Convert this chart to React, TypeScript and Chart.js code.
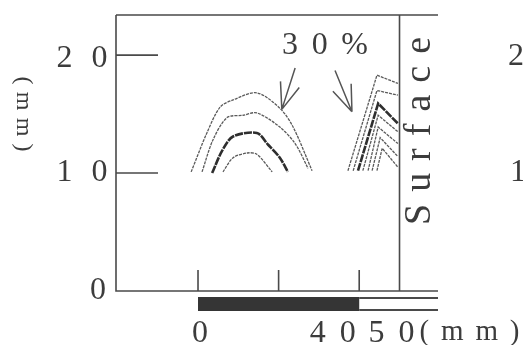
import { useEffect, useRef } from "react";
import { Chart, registerables } from "chart.js";

Chart.register(...registerables);

// ---- data (mm) ----
const xRange = [-20.35, 59.55];
const yRange = [0, 23.4];
const yTicks = [10, 20];
const yTickValues = [0, 10, 20];
const yTickLabels = ["0", "10", "20"];
const xTicks = [0, 20, 40];
const xLabelValues = [0, 40, 50];
const xLabelTexts = ["0", "40", "50"];
const xUnit = "(mm)";
const yUnit = "(mm)";
const surfaceX = 50;
const surfaceLabel = "Surface";
const percentLabel = "30%";
const percentAt = [31.5, 20.8];
const barFilled = [0, 40];
const barOpen = [40, 59.55];
const nextPanelLabels = ["2", "1"];

// contours, left group (x mm, y mm)
const contourA1 = [[-1.7, 10.1], [2.2, 13.4], [5.5, 15.6], [8.7, 16.2], [14.6, 16.8], [20.3, 15.5], [23.6, 13.9], [28.3, 10.2]];
const contourA2 = [[1.0, 10.1], [3.7, 12.8], [7.2, 14.7], [11.2, 14.9], [14.6, 15.1], [20.3, 13.9], [24.1, 12.5], [27.3, 10.4]];
const contourA3 = [[3.5, 10.0], [6.0, 11.9], [8.7, 13.1], [14.6, 13.4], [17.4, 12.4], [20.3, 11.3], [22.3, 10.1]];
const contourA4 = [[6.2, 10.1], [8.7, 11.3], [12.2, 11.7], [14.6, 11.6], [18.4, 10.1]];

// contours, near surface
const contourB1 = [[37.2, 10.2], [44.4, 18.3], [49.6, 17.6]];
const contourB2 = [[38.5, 10.2], [44.4, 17.0], [49.6, 16.6]];
const contourB3 = [[39.7, 10.2], [44.7, 15.9], [49.6, 14.2]];
const contourB4 = [[40.9, 10.2], [44.7, 14.9], [49.6, 13.5]];
const contourB5 = [[42.2, 10.2], [44.7, 13.9], [49.6, 12.5]];
const contourB6 = [[43.2, 10.2], [45.2, 13.0], [49.6, 11.4]];
const contourB7 = [[44.4, 10.2], [45.7, 12.1], [49.6, 10.5]];

const arrowTails = [[24.1, 18.9], [34.0, 18.7]];
const arrowTips = [[20.8, 15.4], [38.2, 15.2]];

const INK = "#4a4a4a";
const SERIF = '"Liberation Serif", "DejaVu Serif", serif';

function toPts(arr: number[][]) {
  return arr.map(([x, y]) => ({ x, y }));
}

function fitted(ctx: CanvasRenderingContext2D, str: string, cx: number, cy: number, target: number) {
  const chars = str.split("");
  const widths = chars.map((c) => ctx.measureText(c).width);
  const sum = widths.reduce((a, b) => a + b, 0);
  const gap = chars.length > 1 ? (target - sum) / (chars.length - 1) : 0;
  const total = chars.length > 1 ? target : sum;
  let x = cx - total / 2;
  ctx.textAlign = "left";
  chars.forEach((c, i) => {
    ctx.fillText(c, x, cy);
    x += widths[i] + gap;
  });
}

const decor = {
  id: "decor",
  beforeDatasetsDraw(chart: any) {
    const ctx: CanvasRenderingContext2D = chart.ctx;
    const { left, right, top, bottom } = chart.chartArea;
    const xs = chart.scales.x;
    const ys = chart.scales.y;
    ctx.save();
    ctx.strokeStyle = INK;
    ctx.lineWidth = 1.6;
    ctx.beginPath();
    ctx.moveTo(left, top);
    ctx.lineTo(right, top);
    ctx.moveTo(left, top);
    ctx.lineTo(left, bottom);
    ctx.lineTo(right, bottom);
    const sx = xs.getPixelForValue(surfaceX);
    ctx.moveTo(sx, top);
    ctx.lineTo(sx, bottom);
    ctx.stroke();
    ctx.beginPath();
    yTicks.forEach((v) => {
      const y = ys.getPixelForValue(v);
      ctx.moveTo(left, y);
      ctx.lineTo(left + 42, y);
    });
    xTicks.forEach((v) => {
      const x = xs.getPixelForValue(v);
      ctx.moveTo(x, bottom);
      ctx.lineTo(x, bottom - 21);
    });
    ctx.stroke();
    const b0 = xs.getPixelForValue(barFilled[0]);
    const b1 = xs.getPixelForValue(barFilled[1]);
    const b2 = xs.getPixelForValue(barOpen[1]);
    ctx.fillStyle = "#353535";
    ctx.fillRect(b0, bottom + 6, b1 - b0, 14);
    ctx.lineWidth = 2;
    ctx.beginPath();
    ctx.moveTo(b1, bottom + 7);
    ctx.lineTo(b2, bottom + 7);
    ctx.moveTo(b1, bottom + 19);
    ctx.lineTo(b2, bottom + 19);
    ctx.stroke();
    ctx.restore();
  },
  afterDraw(chart: any) {
    const ctx: CanvasRenderingContext2D = chart.ctx;
    const { left, top, bottom } = chart.chartArea;
    const xs = chart.scales.x;
    const ys = chart.scales.y;
    ctx.save();
    ctx.fillStyle = "#3c3c3c";
    ctx.strokeStyle = "#555";
    ctx.textBaseline = "middle";
    ctx.font = `32px ${SERIF}`;
    yTickValues.forEach((v, i) => {
      const y = ys.getPixelForValue(v) + (v === 20 ? 3 : 0);
      const t = yTickLabels[i];
      if (t.length > 1) fitted(ctx, t, left - 34, y, 51);
      else {
        ctx.textAlign = "right";
        ctx.fillText(t, left - 10, y);
      }
    });
    const xOff: Record<string, number> = { "0": 2, "40": -26.5, "50": -8 };
    xLabelValues.forEach((v, i) => {
      const t = xLabelTexts[i];
      const x = xs.getPixelForValue(v) + xOff[t];
      const y = bottom + 43;
      if (t.length > 1) fitted(ctx, t, x, y, 46);
      else {
        ctx.textAlign = "center";
        ctx.fillText(t, x, y);
      }
    });
    ctx.font = `29px ${SERIF}`;
    fitted(ctx, xUnit, xs.getPixelForValue(50) + 70, bottom + 41, 100);
    ctx.font = `32px ${SERIF}`;
    fitted(ctx, percentLabel, xs.getPixelForValue(percentAt[0]), ys.getPixelForValue(percentAt[1]), 86);
    ctx.save();
    ctx.translate(xs.getPixelForValue(surfaceX) + 21, top + 116);
    ctx.rotate(-Math.PI / 2);
    ctx.font = `38px ${SERIF}`;
    fitted(ctx, surfaceLabel, 0, 0, 188);
    ctx.restore();
    ctx.save();
    ctx.translate(23, ys.getPixelForValue(15));
    ctx.rotate(Math.PI / 2);
    ctx.font = `24px ${SERIF}`;
    fitted(ctx, yUnit, 0, 0, 75);
    ctx.restore();
    ctx.font = `32px ${SERIF}`;
    ctx.textAlign = "left";
    ctx.fillText(nextPanelLabels[0], 508, ys.getPixelForValue(20) + 1);
    ctx.fillText(nextPanelLabels[1], 510, ys.getPixelForValue(10));
    ctx.lineWidth = 1.5;
    arrowTips.forEach((tip, i) => {
      const tx = xs.getPixelForValue(tip[0]);
      const ty = ys.getPixelForValue(tip[1]);
      const fx = xs.getPixelForValue(arrowTails[i][0]);
      const fy = ys.getPixelForValue(arrowTails[i][1]);
      const ang = Math.atan2(fy - ty, fx - tx);
      ctx.beginPath();
      ctx.moveTo(fx, fy);
      ctx.lineTo(tx, ty);
      [-0.36, 0.36].forEach((d) => {
        ctx.moveTo(tx, ty);
        ctx.lineTo(tx + 28 * Math.cos(ang + d), ty + 28 * Math.sin(ang + d));
      });
      ctx.stroke();
    });
    ctx.restore();
  },
};

function thin(data: number[][], tension: number) {
  return {
    data: toPts(data),
    borderColor: "#5a5a5a",
    borderWidth: 1.3,
    borderDash: [3, 1],
    pointRadius: 0,
    tension,
    fill: false,
  };
}
function thick(data: number[][], tension: number) {
  return {
    data: toPts(data),
    borderColor: "#2e2e2e",
    borderWidth: 2.6,
    borderDash: [8, 1],
    pointRadius: 0,
    tension,
    fill: false,
  };
}

export default function App() {
  const ref = useRef<HTMLCanvasElement>(null);
  useEffect(() => {
    if (!ref.current) return;
    const chart = new Chart(ref.current, {
      type: "line",
      data: {
        datasets: [
          thin(contourA1, 0.3),
          thin(contourA2, 0.3),
          thick(contourA3, 0.3),
          thin(contourA4, 0.3),
          thin(contourB1, 0),
          thin(contourB2, 0),
          thick(contourB3, 0),
          thin(contourB4, 0),
          thin(contourB5, 0),
          thin(contourB6, 0),
          thin(contourB7, 0),
        ] as any,
      },
      options: {
        animation: false,
        responsive: false,
        maintainAspectRatio: false,
        devicePixelRatio: 1,
        layout: { padding: { left: 116, right: 85, top: 15, bottom: 54 } },
        plugins: { legend: { display: false }, tooltip: { enabled: false } },
        scales: {
          x: { type: "linear", min: xRange[0], max: xRange[1], display: false },
          y: { type: "linear", min: yRange[0], max: yRange[1], display: false },
        },
      },
      plugins: [decor],
    });
    return () => chart.destroy();
  }, []);
  return (
    <div style={{ position: "fixed", left: 0, top: 0, width: 523, height: 345, background: "#fff" }}>
      <canvas ref={ref} width={523} height={345} />
    </div>
  );
}
